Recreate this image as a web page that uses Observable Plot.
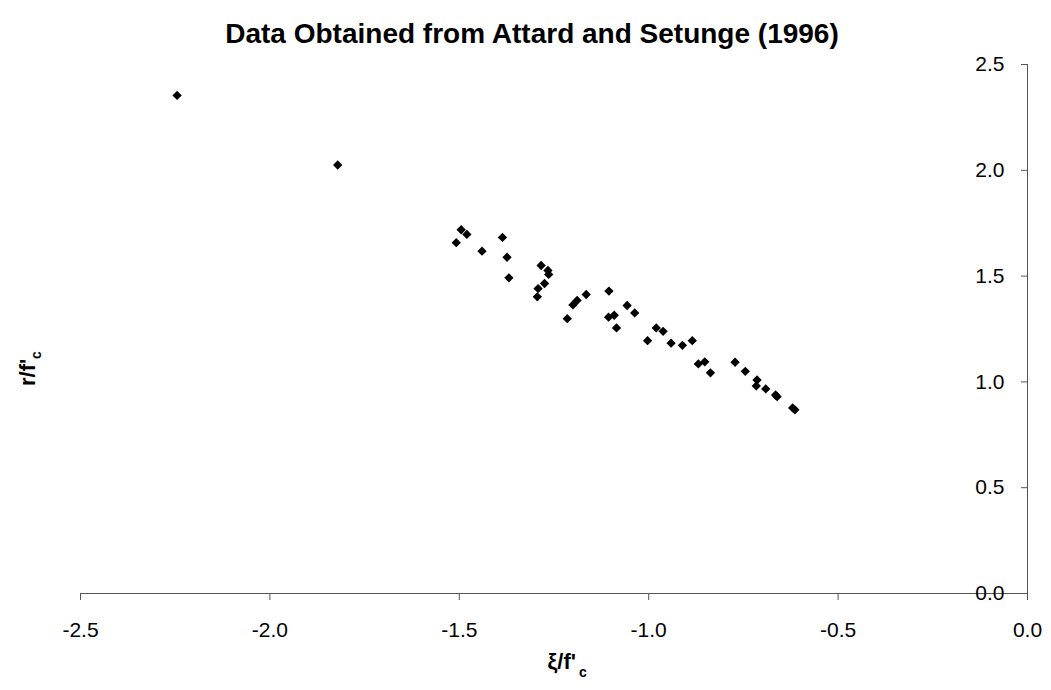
<!DOCTYPE html>
<html><head><meta charset="utf-8">
<script src="https://cdn.jsdelivr.net/npm/d3@7"></script>
<script src="https://cdn.jsdelivr.net/npm/@observablehq/plot@0.6"></script>
<style>body{margin:0;background:#fff;}</style>
</head><body><div id="chart"></div>
<script>
const title = "Data Obtained from Attard and Setunge (1996)";
const xLabel = "ξ/f'";
const yLabel = "r/f'";
const subLabel = "c";
const xTicks = [-2.5, -2.0, -1.5, -1.0, -0.5, 0.0];
const yTicks = [0.0, 0.5, 1.0, 1.5, 2.0, 2.5];
const xi = [-2.245, -1.821, -1.508, -1.495, -1.480, -1.440, -1.386, -1.374, -1.369, -1.294, -1.292, -1.284, -1.275, -1.266, -1.264, -1.215, -1.200, -1.189, -1.165, -1.106, -1.105, -1.091, -1.085, -1.057, -1.037, -1.003, -0.980, -0.962, -0.941, -0.911, -0.885, -0.869, -0.852, -0.837, -0.772, -0.745, -0.716, -0.714, -0.691, -0.665, -0.661, -0.620, -0.614];
const r = [2.354, 2.025, 1.658, 1.719, 1.697, 1.618, 1.683, 1.589, 1.492, 1.402, 1.441, 1.550, 1.465, 1.527, 1.508, 1.299, 1.364, 1.385, 1.413, 1.306, 1.429, 1.315, 1.255, 1.361, 1.326, 1.195, 1.255, 1.239, 1.183, 1.173, 1.195, 1.085, 1.095, 1.043, 1.093, 1.050, 0.981, 1.009, 0.967, 0.938, 0.930, 0.877, 0.868];

const data = xi.map((x, i) => ({x, y: r[i]}));
const font = "'Liberation Sans', Arial, sans-serif";
const axisColor = "#555";

const chart = Plot.plot({
  width: 1051, height: 690,
  marginTop: 64, marginBottom: 97, marginLeft: 80, marginRight: 24,
  style: {fontFamily: font, background: "#fff", color: "#000", overflow: "visible"},
  x: {domain: [-2.5, 0]},
  y: {domain: [0, 2.5]},
  marks: [
    Plot.ruleY([0], {stroke: axisColor}),
    Plot.ruleX([0], {stroke: axisColor}),
    Plot.axisX(xTicks, {anchor: "bottom", tickSize: 7, tickPadding: 22, tickFormat: d => d.toFixed(1), fontSize: 21, label: null, stroke: axisColor, fill: "#000"}),
    Plot.axisY(yTicks, {anchor: "right", tickSize: -7, tickPadding: -16, textAnchor: "end", tickFormat: d => d.toFixed(1), fontSize: 21, label: null, stroke: axisColor, fill: "#000"}),
    Plot.dot(data, {x: "x", y: "y", symbol: "diamond2", r: 4.2, fill: "#000", stroke: null}),
    Plot.text([title], {frameAnchor: "top", dx: -22, dy: -22, lineAnchor: "bottom", fontSize: 28, fontWeight: "bold", fill: "#000"}),
    Plot.text([xLabel], {frameAnchor: "bottom", dx: 22, dy: 75, lineAnchor: "bottom", textAnchor: "end", fontSize: 22, fontWeight: "bold", fill: "#000"}),
    Plot.text([subLabel], {frameAnchor: "bottom", dx: 25, dy: 83, lineAnchor: "bottom", textAnchor: "start", fontSize: 14, fontWeight: "bold", fill: "#000"}),
    Plot.text([yLabel], {frameAnchor: "left", dx: -46, dy: 57, rotate: -90, lineAnchor: "bottom", textAnchor: "start", fontSize: 22, fontWeight: "bold", fill: "#000"}),
    Plot.text([subLabel], {frameAnchor: "left", dx: -40, dy: 30, rotate: -90, lineAnchor: "bottom", textAnchor: "start", fontSize: 14, fontWeight: "bold", fill: "#000"})
  ]
});
document.getElementById("chart").appendChild(chart);
</script>
</body></html>
